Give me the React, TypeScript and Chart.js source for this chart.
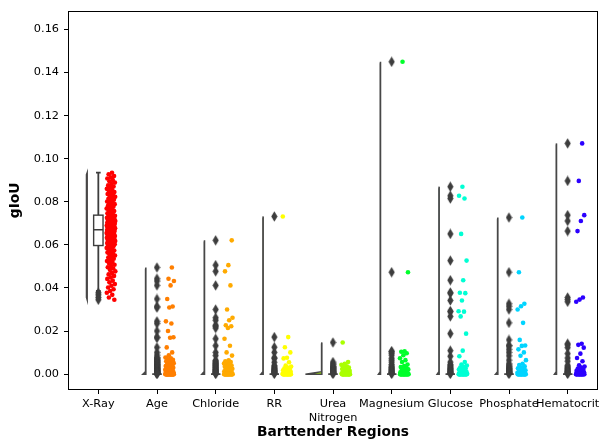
import React, { useEffect, useRef } from "react";
import { Chart, registerables } from "chart.js";

Chart.register(...registerables);

const categoryLabels: (string | string[])[] = [
  "X-Ray", "Age", "Chloride", "RR", ["Urea", "Nitrogen"], "Magnesium", "Glucose", "Phosphate", "Hematocrit",
];
const categoryColors = [
  "#ff0000", "#ff7f00", "#ffaa00", "#ffff00", "#aaff00", "#00ff2b", "#00ffd4", "#00d4ff", "#2b00ff",
];
const yTickValues = [0, 0.02, 0.04, 0.06, 0.08, 0.1, 0.12, 0.14, 0.16];
const xAxisTitle = "Barttender Regions";
const yAxisTitle = "gIoU";

const xrayValues = [
  0.0935, 0.0928, 0.092, 0.0914, 0.0908, 0.0901, 0.0895, 0.0889, 0.0882, 0.0876,
  0.0871, 0.0866, 0.086, 0.0855, 0.085, 0.0845, 0.0841, 0.0836, 0.0832, 0.0827,
  0.0823, 0.0818, 0.0814, 0.081, 0.0805, 0.0801, 0.0797, 0.0793, 0.0789, 0.0785,
  0.0781, 0.0777, 0.0773, 0.0769, 0.0765, 0.0761, 0.0757, 0.0752, 0.0747, 0.0742,
  0.0737, 0.0735, 0.0733, 0.0731, 0.0729, 0.0727, 0.0726, 0.0724, 0.0722, 0.072,
  0.0718, 0.0717, 0.0715, 0.0713, 0.0711, 0.071, 0.0708, 0.0706, 0.0705, 0.0703,
  0.0701, 0.07, 0.0698, 0.0696, 0.0695, 0.0693, 0.0691, 0.069, 0.0688, 0.0687,
  0.0685, 0.0684, 0.0682, 0.068, 0.0679, 0.0677, 0.0676, 0.0674, 0.0673, 0.0671,
  0.0669, 0.0667, 0.0665, 0.0664, 0.0662, 0.066, 0.0659, 0.0657, 0.0655, 0.0653,
  0.0652, 0.065, 0.0648, 0.0647, 0.0645, 0.0643, 0.0641, 0.064, 0.0638, 0.0636,
  0.0634, 0.0633, 0.0631, 0.0629, 0.0627, 0.0625, 0.0624, 0.0622, 0.062, 0.0618,
  0.0616, 0.0614, 0.0613, 0.0611, 0.0609, 0.0607, 0.0605, 0.0603, 0.0601, 0.0599,
  0.0594, 0.059, 0.0586, 0.0582, 0.0578, 0.0574, 0.057, 0.0565, 0.056, 0.0556,
  0.0551, 0.0546, 0.0541, 0.0536, 0.053, 0.0525, 0.052, 0.0514, 0.0508, 0.0502,
  0.0496, 0.049, 0.0484, 0.0477, 0.047, 0.0463, 0.0456, 0.0449, 0.0442, 0.0434,
  0.0426, 0.0418, 0.041, 0.0402, 0.0394, 0.0386, 0.0378, 0.0368, 0.0356, 0.0345,
];
const ageValues = [
  0.0495, 0.0443, 0.0432, 0.0412, 0.0349, 0.0314, 0.0309, 0.0245, 0.0235, 0.02,
  0.0171, 0.0169, 0.0124, 0.0101, 0.0088,
  0.0077, 0.0074, 0.007, 0.0066, 0.0063, 0.006, 0.0057, 0.0054, 0.0051, 0.0048,
  0.0045, 0.0043, 0.004, 0.0038, 0.0035, 0.0033, 0.003, 0.0028, 0.0026, 0.0024,
  0.0022, 0.002, 0.0018, 0.0016, 0.0015, 0.0013, 0.0012, 0.001, 0.0009, 0.0008,
  0.0006, 0.0005, 0.0004, 0.0003, 0.0002,
  0, 0, 0, 0, 0, 0, 0, 0, 0, 0, 0, 0, 0, 0, 0, 0, 0, 0, 0, 0, 0, 0, 0, 0,
];
const chlorideValues = [
  0.0621, 0.0506, 0.0477, 0.0412, 0.03, 0.0262, 0.025, 0.0227, 0.0222, 0.0214,
  0.0164, 0.0132, 0.0101, 0.0086,
  0.0064, 0.006, 0.0056, 0.0052, 0.0049, 0.0046, 0.0043, 0.004, 0.0037, 0.0034,
  0.0031, 0.0028, 0.0025, 0.0022, 0.002, 0.0018, 0.0015, 0.0013, 0.0011, 0.0009,
  0.0007, 0.0005, 0.0003, 0.0002,
  0, 0, 0, 0, 0, 0, 0, 0, 0, 0, 0, 0, 0, 0, 0, 0, 0, 0, 0, 0,
];
const rrValues = [
  0.0732, 0.0172, 0.0125, 0.0101, 0.0076, 0.0073, 0.0055, 0.004, 0.0035,
  0.003, 0.0027, 0.0024, 0.0021, 0.0018, 0.0016, 0.0014, 0.0012, 0.001, 0.0008,
  0.0006, 0.0004, 0.0002,
  0, 0, 0, 0, 0, 0, 0, 0, 0, 0, 0, 0, 0, 0, 0, 0, 0, 0,
];
const ureaNitrogenValues = [
  0.0147, 0.0056, 0.0048, 0.0043, 0.0036, 0.0033, 0.003, 0.0027, 0.0024, 0.0021,
  0.0018, 0.0015, 0.0012, 0.001, 0.0008, 0.0006, 0.0004, 0.0002,
  0, 0, 0, 0, 0, 0, 0, 0, 0, 0, 0, 0, 0, 0, 0, 0, 0, 0,
];
const magnesiumValues = [
  0.145, 0.0473, 0.0106, 0.0104, 0.0097, 0.0088, 0.0074, 0.0065, 0.0056, 0.0045,
  0.0038, 0.0033, 0.003, 0.0026, 0.0022, 0.0019, 0.0016, 0.0013, 0.001, 0.0008,
  0.0006, 0.0004, 0.0002,
  0, 0, 0, 0, 0, 0, 0, 0, 0, 0, 0, 0, 0, 0, 0, 0, 0, 0,
];
const glucoseValues = [
  0.087, 0.0828, 0.0815, 0.0651, 0.0527, 0.0436, 0.0378, 0.0376, 0.0342, 0.0292,
  0.029, 0.0268, 0.0188, 0.0109, 0.0083, 0.0056, 0.0045, 0.004,
  0.0035, 0.003, 0.0027, 0.0024, 0.0021, 0.0018, 0.0015, 0.0012, 0.001, 0.0008,
  0.0006, 0.0004, 0.0002,
  0, 0, 0, 0, 0, 0, 0, 0, 0, 0, 0, 0, 0, 0, 0, 0, 0, 0,
];
const phosphateValues = [
  0.0727, 0.0473, 0.0327, 0.0315, 0.03, 0.0238, 0.0159, 0.0133, 0.0131, 0.0115,
  0.0101, 0.0085, 0.0065, 0.0048, 0.0042, 0.0036,
  0.003, 0.0027, 0.0024, 0.0021, 0.0018, 0.0015, 0.0012, 0.001, 0.0008, 0.0006,
  0.0004, 0.0002,
  0, 0, 0, 0, 0, 0, 0, 0, 0, 0, 0, 0, 0, 0, 0, 0, 0, 0,
];
const hematocritValues = [
  0.1071, 0.0897, 0.0738, 0.0711, 0.0664, 0.0356, 0.0346, 0.0336, 0.0141, 0.0136,
  0.0123, 0.0095, 0.0075, 0.006, 0.0041, 0.0035,
  0.003, 0.0026, 0.0022, 0.0018, 0.0015, 0.0012, 0.001, 0.0008, 0.0006, 0.0004,
  0.0002,
  0, 0, 0, 0, 0, 0, 0, 0, 0, 0, 0, 0, 0, 0, 0, 0,
];

const seriesValues = [
  xrayValues, ageValues, chlorideValues, rrValues, ureaNitrogenValues,
  magnesiumValues, glucoseValues, phosphateValues, hematocritValues,
];

// box statistics
const boxQ1 = [0.0597, 0, 0, 0, 0, 0, 0, 0, 0];
const boxMedian = [0.067, 0, 0, 0, 0, 0, 0, 0, 0];
const boxQ3 = [0.0738, 0, 0, 0, 0, 0, 0, 0, 0];
// half-violin density widths (fraction of a category slot)
const violinBodyWidth = [0.012, 0.005, 0.005, 0.005, 0.005, 0.005, 0.005, 0.005, 0.005];
const violinFootWidth = [0.0, 0.05, 0.045, 0.04, 0.28, 0.035, 0.035, 0.04, 0.035];

// layout / style constants
const VIOLIN_OFFSET = -0.19;
const BOX_WIDTH = 0.16;
const STRIP_CENTER = 0.215;
const STRIP_HALF = 0.075;
const DARK = "#3d3d3d";
const FONT = "'DejaVu Sans', sans-serif";

function whiskers(i: number) {
  const vals = seriesValues[i];
  const iqr = boxQ3[i] - boxQ1[i];
  const lo = boxQ1[i] - 1.5 * iqr;
  const hi = boxQ3[i] + 1.5 * iqr;
  const inside = vals.filter((v) => v >= lo - 1e-12 && v <= hi + 1e-12);
  return {
    low: inside.length ? Math.min(...inside) : boxQ1[i],
    high: inside.length ? Math.max(...inside) : boxQ3[i],
    lo,
    hi,
  };
}

function jitter(k: number, i: number) {
  const f = ((k + 1) * 0.6180339887 + i * 0.137) % 1;
  return f * 2 - 1;
}

const raincloudPlugin = {
  id: "raincloud",
  beforeDatasetsDraw(chart: any) {
    const { ctx, chartArea } = chart;
    const x = chart.scales.x;
    const y = chart.scales.y;
    const unit = x.getPixelForValue(1) - x.getPixelForValue(0);
    ctx.save();
    ctx.beginPath();
    ctx.rect(chartArea.left, chartArea.top, chartArea.right - chartArea.left, chartArea.bottom - chartArea.top);
    ctx.clip();
    // violins
    seriesValues.forEach((vals, i) => {
      const vmin = Math.min(...vals);
      const vmax = Math.max(...vals);
      const edge = x.getPixelForValue(i + VIOLIN_OFFSET);
      const body = violinBodyWidth[i] * unit;
      const foot = violinFootWidth[i] * unit;
      const yTop = y.getPixelForValue(vmax);
      const yBot = y.getPixelForValue(vmin);
      const span = yBot - yTop;
      const footH = Math.min(2.5, span / 3);
      ctx.beginPath();
      ctx.moveTo(edge, yTop);
      ctx.lineTo(edge - body, yTop + Math.min(2, span * 0.05));
      ctx.lineTo(edge - body, yBot - footH);
      ctx.lineTo(edge - foot, yBot);
      ctx.lineTo(edge, yBot);
      ctx.closePath();
      ctx.fillStyle = categoryColors[i];
      ctx.fill();
      ctx.lineWidth = 1.5;
      ctx.strokeStyle = "#474747";
      ctx.lineJoin = "miter";
      ctx.stroke();
    });
    // boxes
    seriesValues.forEach((_, i) => {
      const w = whiskers(i);
      const cx = x.getPixelForValue(i);
      const hw = (BOX_WIDTH / 2) * unit;
      const q1 = y.getPixelForValue(boxQ1[i]);
      const q3 = y.getPixelForValue(boxQ3[i]);
      const med = y.getPixelForValue(boxMedian[i]);
      const wl = y.getPixelForValue(w.low);
      const wh = y.getPixelForValue(w.high);
      ctx.strokeStyle = DARK;
      ctx.lineWidth = 1.8;
      ctx.beginPath();
      ctx.moveTo(cx, q3);
      ctx.lineTo(cx, wh);
      ctx.moveTo(cx, q1);
      ctx.lineTo(cx, wl);
      ctx.moveTo(cx - hw / 2, wh);
      ctx.lineTo(cx + hw / 2, wh);
      ctx.moveTo(cx - hw / 2, wl);
      ctx.lineTo(cx + hw / 2, wl);
      ctx.stroke();
      ctx.fillStyle = "#ffffff";
      ctx.fillRect(cx - hw, q3, 2 * hw, q1 - q3);
      ctx.lineWidth = 1.4;
      ctx.strokeRect(cx - hw, q3, 2 * hw, q1 - q3);
      ctx.beginPath();
      ctx.moveTo(cx - hw, med);
      ctx.lineTo(cx + hw, med);
      ctx.stroke();
    });
    ctx.restore();
  },
  afterDraw(chart: any) {
    const { ctx, chartArea } = chart;
    ctx.save();
    ctx.strokeStyle = "#000000";
    ctx.lineWidth = 1;
    ctx.strokeRect(
      Math.round(chartArea.left) - 0.5,
      Math.round(chartArea.top) - 0.5,
      Math.round(chartArea.right - chartArea.left) + 1,
      Math.round(chartArea.bottom - chartArea.top) + 1
    );
    ctx.restore();
  },
};

export default function App() {
  const canvasRef = useRef<HTMLCanvasElement | null>(null);

  useEffect(() => {
    document.body.style.margin = "0";
    const canvas = canvasRef.current;
    if (!canvas) return;

    const diamond = document.createElement("canvas");
    diamond.width = 7;
    diamond.height = 11;
    const dctx = diamond.getContext("2d");
    if (dctx) {
      dctx.fillStyle = DARK;
      dctx.beginPath();
      dctx.moveTo(3.5, 0.3);
      dctx.lineTo(6.6, 5.5);
      dctx.lineTo(3.5, 10.7);
      dctx.lineTo(0.4, 5.5);
      dctx.closePath();
      dctx.fill();
    }

    const outlierPoints: { x: number; y: number }[] = [];
    seriesValues.forEach((vals, i) => {
      const w = whiskers(i);
      vals.forEach((v) => {
        if (v > w.hi + 1e-12 || v < w.lo - 1e-12) outlierPoints.push({ x: i, y: v });
      });
    });

    const stripDatasets = seriesValues.map((vals, i) => ({
      type: "scatter" as const,
      label: Array.isArray(categoryLabels[i]) ? (categoryLabels[i] as string[]).join(" ") : (categoryLabels[i] as string),
      data: vals.map((v, k) => ({ x: i + STRIP_CENTER + jitter(k, i) * STRIP_HALF, y: v })),
      backgroundColor: categoryColors[i],
      borderColor: categoryColors[i],
      borderWidth: 0,
      pointRadius: 2.3,
      pointHoverRadius: 2.3,
      order: 1,
    }));

    const chart = new Chart(canvas, {
      type: "scatter",
      data: {
        datasets: [
          {
            type: "scatter",
            label: "outliers",
            data: outlierPoints,
            pointStyle: diamond as any,
            pointRadius: 5,
            pointHoverRadius: 5,
            order: 2,
          },
          ...stripDatasets,
        ],
      },
      options: {
        animation: false,
        responsive: false,
        devicePixelRatio: 1,
        layout: { padding: { top: 6, right: 2, left: 0, bottom: 0 } },
        plugins: {
          legend: { display: false },
          tooltip: { enabled: false },
        },
        scales: {
          x: {
            type: "linear",
            min: -0.5,
            max: 8.5,
            afterBuildTicks: (scale: any) => {
              scale.ticks = categoryLabels.map((_, i) => ({ value: i }));
            },
            afterFit: (scale: any) => {
              scale.height = 53;
            },
            ticks: {
              autoSkip: false,
              maxRotation: 0,
              minRotation: 0,
              padding: 3,
              color: "#000000",
              font: { family: FONT, size: 11.3, lineHeight: 1.22 },
              callback: (value: any) => categoryLabels[Math.round(Number(value))] as any,
            },
            grid: {
              display: true,
              drawOnChartArea: false,
              drawTicks: true,
              tickLength: 5,
              tickColor: "#000000",
              tickWidth: 1,
            },
            border: { display: false },
            title: {
              display: true,
              text: xAxisTitle,
              color: "#000000",
              font: { family: FONT, size: 13.8, weight: "bold" },
              padding: { top: 0, bottom: 1 },
            },
          },
          y: {
            type: "linear",
            min: -0.0069,
            max: 0.1682,
            afterBuildTicks: (scale: any) => {
              scale.ticks = yTickValues.map((v) => ({ value: v }));
            },
            afterFit: (scale: any) => {
              scale.width = 69;
            },
            ticks: {
              padding: 5,
              color: "#000000",
              font: { family: FONT, size: 11.3 },
              callback: (value: any) => Number(value).toFixed(2),
            },
            grid: {
              display: true,
              drawOnChartArea: false,
              drawTicks: true,
              tickLength: 5,
              tickColor: "#000000",
              tickWidth: 1,
            },
            border: { display: false },
            title: {
              display: true,
              text: yAxisTitle,
              color: "#000000",
              font: { family: FONT, size: 13.8, weight: "bold" },
              padding: { top: 7, bottom: 0 },
            },
          },
        },
      } as any,
      plugins: [raincloudPlugin],
    });

    return () => {
      chart.destroy();
    };
  }, []);

  return (
    <div style={{ position: "absolute", left: 0, top: 0, width: 603, height: 442, background: "#ffffff" }}>
      <canvas ref={canvasRef} width={603} height={442} style={{ display: "block", width: 603, height: 442 }} />
    </div>
  );
}
